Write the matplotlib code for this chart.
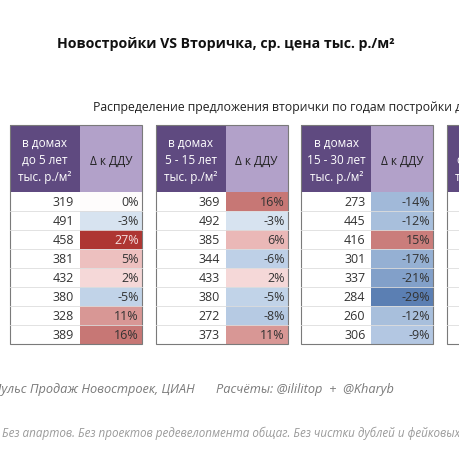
import numpy as np
import matplotlib.pyplot as plt
from matplotlib.patches import Rectangle
from matplotlib.colors import LinearSegmentedColormap, TwoSlopeNorm

# --- Datos ---
headers = ["в домах\nдо 5 лет\nтыс. р./м²",
           "в домах\n5 - 15 лет\nтыс. р./м²",
           "в домах\n15 - 30 лет\nтыс. р./м²",
           "в домах\nот 30 лет\nтыс. р./м²"]
prices_5 = [319, 491, 458, 381, 432, 380, 328, 389]
delta_5 = [0, -3, 27, 5, 2, -5, 11, 16]
prices_15 = [369, 492, 385, 344, 433, 380, 272, 373]
delta_15 = [16, -3, 6, -6, 2, -5, -8, 11]
prices_30 = [273, 445, 416, 301, 337, 284, 260, 306]
delta_30 = [-14, -12, 15, -17, -21, -29, -12, -9]
prices = [prices_5, prices_15, prices_30, []]
deltas = [delta_5, delta_15, delta_30, []]

# --- Estilo ---
plt.rcParams['font.family'] = ['Open Sans', 'DejaVu Sans']
dark = '#5f4a80'
light = '#b2a1c9'
# escala de color tipo Excel: azul - blanco - rojo
cmap = LinearSegmentedColormap.from_list('ddu', [
    (0.0, '#5b7fb3'), (0.2, '#94afd3'), (0.42, '#c3d4e9'), (0.5, '#ffffff'),
    (0.52, '#f7e0e0'), (0.6, '#ecbcbb'), (0.8, '#c67674'), (1.0, '#ae3632')])
norm = TwoSlopeNorm(vmin=-29, vcenter=0, vmax=27)

fig = plt.figure(figsize=(4.6, 4.6), dpi=100)
ax = fig.add_axes([0, 0, 1, 1])
ax.set_xlim(0, 460)
ax.set_ylim(460, 0)
ax.axis('off')

# Layout (pixels)
x0 = 10
step = 145.7
w_val = 70
w_delta = 62
top = 126
head_h = 67
row_h = 19
n_rows = 8

for t in range(4):
    left = x0 + t * step
    ax.add_patch(Rectangle((left, top), w_val, head_h, color=dark, lw=0))
    ax.add_patch(Rectangle((left + w_val, top), w_delta, head_h, color=light, lw=0))
    ax.text(left + w_val / 2, top + head_h / 2 + 1, headers[t], color='white', fontsize=8.5,
            ha='center', va='center', linespacing=1.4)
    ax.text(left + w_val + w_delta / 2, top + head_h / 2 + 2, "Δ к ДДУ", color='#222222',
            fontsize=8.5, ha='center', va='center')
    body = top + head_h
    for i in range(n_rows):
        y = body + i * row_h
        if i < len(deltas[t]):
            d = deltas[t][i]
            ax.add_patch(Rectangle((left + w_val, y), w_delta, row_h, color=cmap(norm(d)), lw=0))
            ax.text(left + w_val - 6, y + row_h / 2 + 0.5, str(prices[t][i]), fontsize=9,
                    color='#333333', ha='right', va='center')
            ax.text(left + w_val + w_delta - 3, y + row_h / 2 + 0.5, f"{d}%", fontsize=9,
                    color='#f4dede' if d >= 25 else '#333333', ha='right', va='center')
        if i > 0:
            ax.plot([left, left + w_val + w_delta], [y, y], color='#dddddd', lw=0.6)
    ax.add_patch(Rectangle((left, top), w_val + w_delta, head_h + n_rows * row_h,
                           fill=False, ec='#7a7a7a', lw=0.8))

# --- Textos ---
ax.text(226, 44, "Новостройки VS Вторичка, ср. цена тыс. р./м²", fontsize=10.2,
        fontweight='bold', ha='center', va='center', color='#111111')
ax.text(93, 108, "Распределение предложения вторички по годам постройки дома",
        fontsize=8.8, ha='left', va='center', color='#222222')
ax.text(195, 390, "Источник: Пульс Продаж Новостроек, ЦИАН", fontsize=9.2, style='italic',
        ha='right', va='center', color='#7a7a7a')
ax.text(216, 390, "Расчёты: @ililitop  +  @Kharyb", fontsize=9.2, style='italic',
        ha='left', va='center', color='#7a7a7a')
ax.text(2, 433, "Без апартов. Без проектов редевелопмента общаг. Без чистки дублей и фейковых объявлений.",
        fontsize=8.4, style='italic', ha='left', va='center', color='#9a9a9a')

fig.savefig('out.png', dpi=100, facecolor='white')
